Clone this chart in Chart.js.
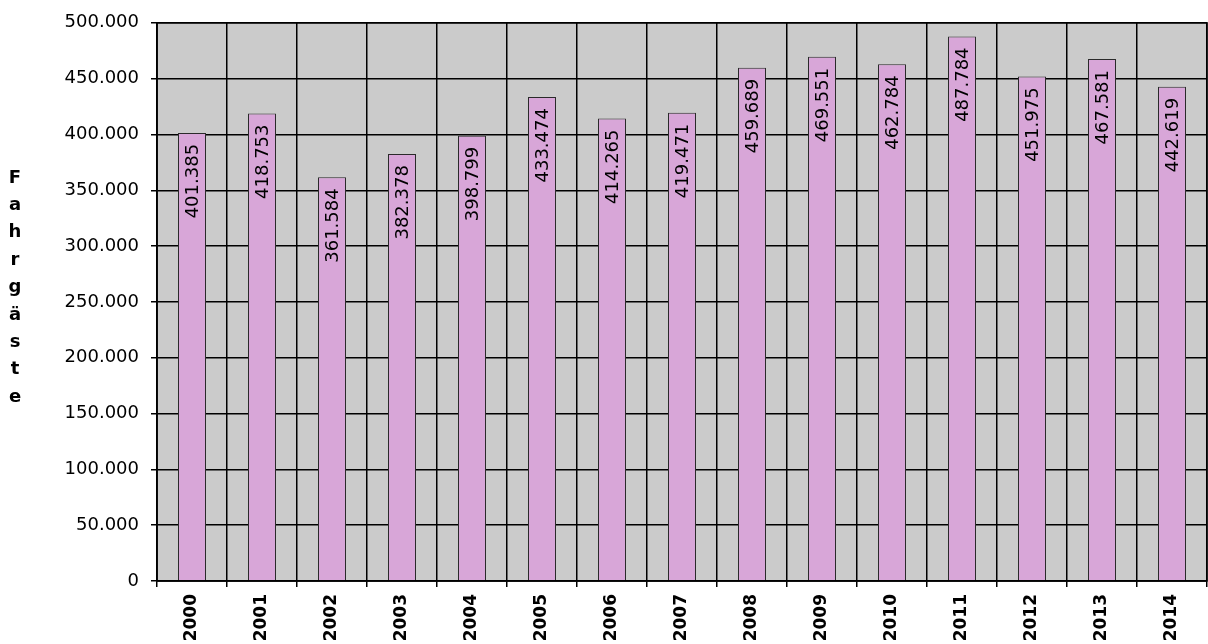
<!DOCTYPE html>
<html>
<head>
<meta charset="utf-8">
<script src="https://cdn.jsdelivr.net/npm/chart.js@4/dist/chart.umd.min.js"></script>
<style>
  html, body { margin: 0; padding: 0; background: #ffffff; }
  #wrap { width: 1208px; height: 644px; }
</style>
</head>
<body>
<div id="wrap"><canvas id="barChart"></canvas></div>
<script>
const jahre = ['2000', '2001', '2002', '2003', '2004', '2005', '2006', '2007', '2008', '2009', '2010', '2011', '2012', '2013', '2014'];
const fahrgaeste = [401385, 418753, 361584, 382378, 398799, 433474, 414265, 419471, 459689, 469551, 462784, 487784, 451975, 467581, 442619];
const achsenTitel = 'Fahrgäste';
const yMax = 500000;
const yStep = 50000;

const fmt = (v) => v.toLocaleString('de-DE');

// grauer Hintergrund der Zeichenfläche + Rahmen + Achsentitel
const hintergrund = {
    id: 'hintergrund',
    beforeDraw(chart) {
        const { ctx, chartArea: a } = chart;
        ctx.save();
        ctx.fillStyle = '#cbcbcb';
        ctx.fillRect(a.left, a.top, a.right - a.left, a.bottom - a.top);
        ctx.restore();
    },
    afterDraw(chart) {
        const { ctx, chartArea: a } = chart;
        ctx.save();
        ctx.strokeStyle = '#000000';
        ctx.lineWidth = 1.5;
        ctx.strokeRect(a.left, a.top, a.right - a.left, a.bottom - a.top);
        // Buchstaben untereinander
        ctx.fillStyle = '#000000';
        ctx.font = 'bold 18px "DejaVu Sans"';
        ctx.textAlign = 'center';
        ctx.textBaseline = 'middle';
        achsenTitel.split('').forEach((c, i) => {
            ctx.fillText(c, 15, 178 + i * 27.4);
        });
        ctx.restore();
    }
};

// Werte senkrecht in die Balken schreiben
const werteLabels = {
    id: 'werteLabels',
    afterDatasetsDraw(chart) {
        const { ctx } = chart;
        const meta = chart.getDatasetMeta(0);
        ctx.save();
        ctx.fillStyle = '#000000';
        ctx.font = '18px "DejaVu Sans"';
        ctx.textAlign = 'right';
        ctx.textBaseline = 'middle';
        meta.data.forEach((bar, i) => {
            ctx.save();
            ctx.translate(bar.x, bar.y + 11);
            ctx.rotate(-Math.PI / 2);
            ctx.fillText(fmt(fahrgaeste[i]), 0, 1);
            ctx.restore();
        });
        ctx.restore();
    }
};

const ctx = document.getElementById('barChart').getContext('2d');

const barChart = new Chart(ctx, {
    type: 'bar',
    data: {
        labels: jahre,
        datasets: [{
            label: achsenTitel,
            data: fahrgaeste,
            backgroundColor: '#d8a6d8',
            borderColor: '#2a2a2a',
            borderWidth: 1,
            borderSkipped: 'bottom',
            barPercentage: 0.4,
            categoryPercentage: 1.0
        }]
    },
    options: {
        responsive: true,
        maintainAspectRatio: false,
        animation: false,
        layout: {
            padding: { left: 0, right: 1, top: 20, bottom: 0 }
        },
        plugins: {
            legend: { display: false },
            tooltip: { enabled: false }
        },
        scales: {
            x: {
                grid: {
                    color: '#000000',
                    lineWidth: 1.5,
                    offset: true,
                    tickLength: 6
                },
                border: { color: '#000000', width: 1.5 },
                ticks: {
                    color: '#000000',
                    minRotation: 90,
                    maxRotation: 90,
                    padding: 7,
                    font: { family: '"DejaVu Sans"', size: 17, weight: 'bold' }
                },
                afterFit(scale) {
                    scale.height = 63;
                    scale.paddingLeft = 0;
                    scale.paddingRight = 0;
                }
            },
            y: {
                min: 0,
                max: yMax,
                grid: {
                    color: '#000000',
                    lineWidth: 1.5,
                    tickLength: 6
                },
                border: { color: '#000000', width: 1.5 },
                ticks: {
                    stepSize: yStep,
                    color: '#000000',
                    padding: 12,
                    font: { family: '"DejaVu Sans"', size: 18 },
                    callback: (v) => fmt(v)
                },
                afterFit(scale) {
                    scale.width = 157;
                }
            }
        }
    },
    plugins: [hintergrund, werteLabels]
});
</script>
</body>
</html>
